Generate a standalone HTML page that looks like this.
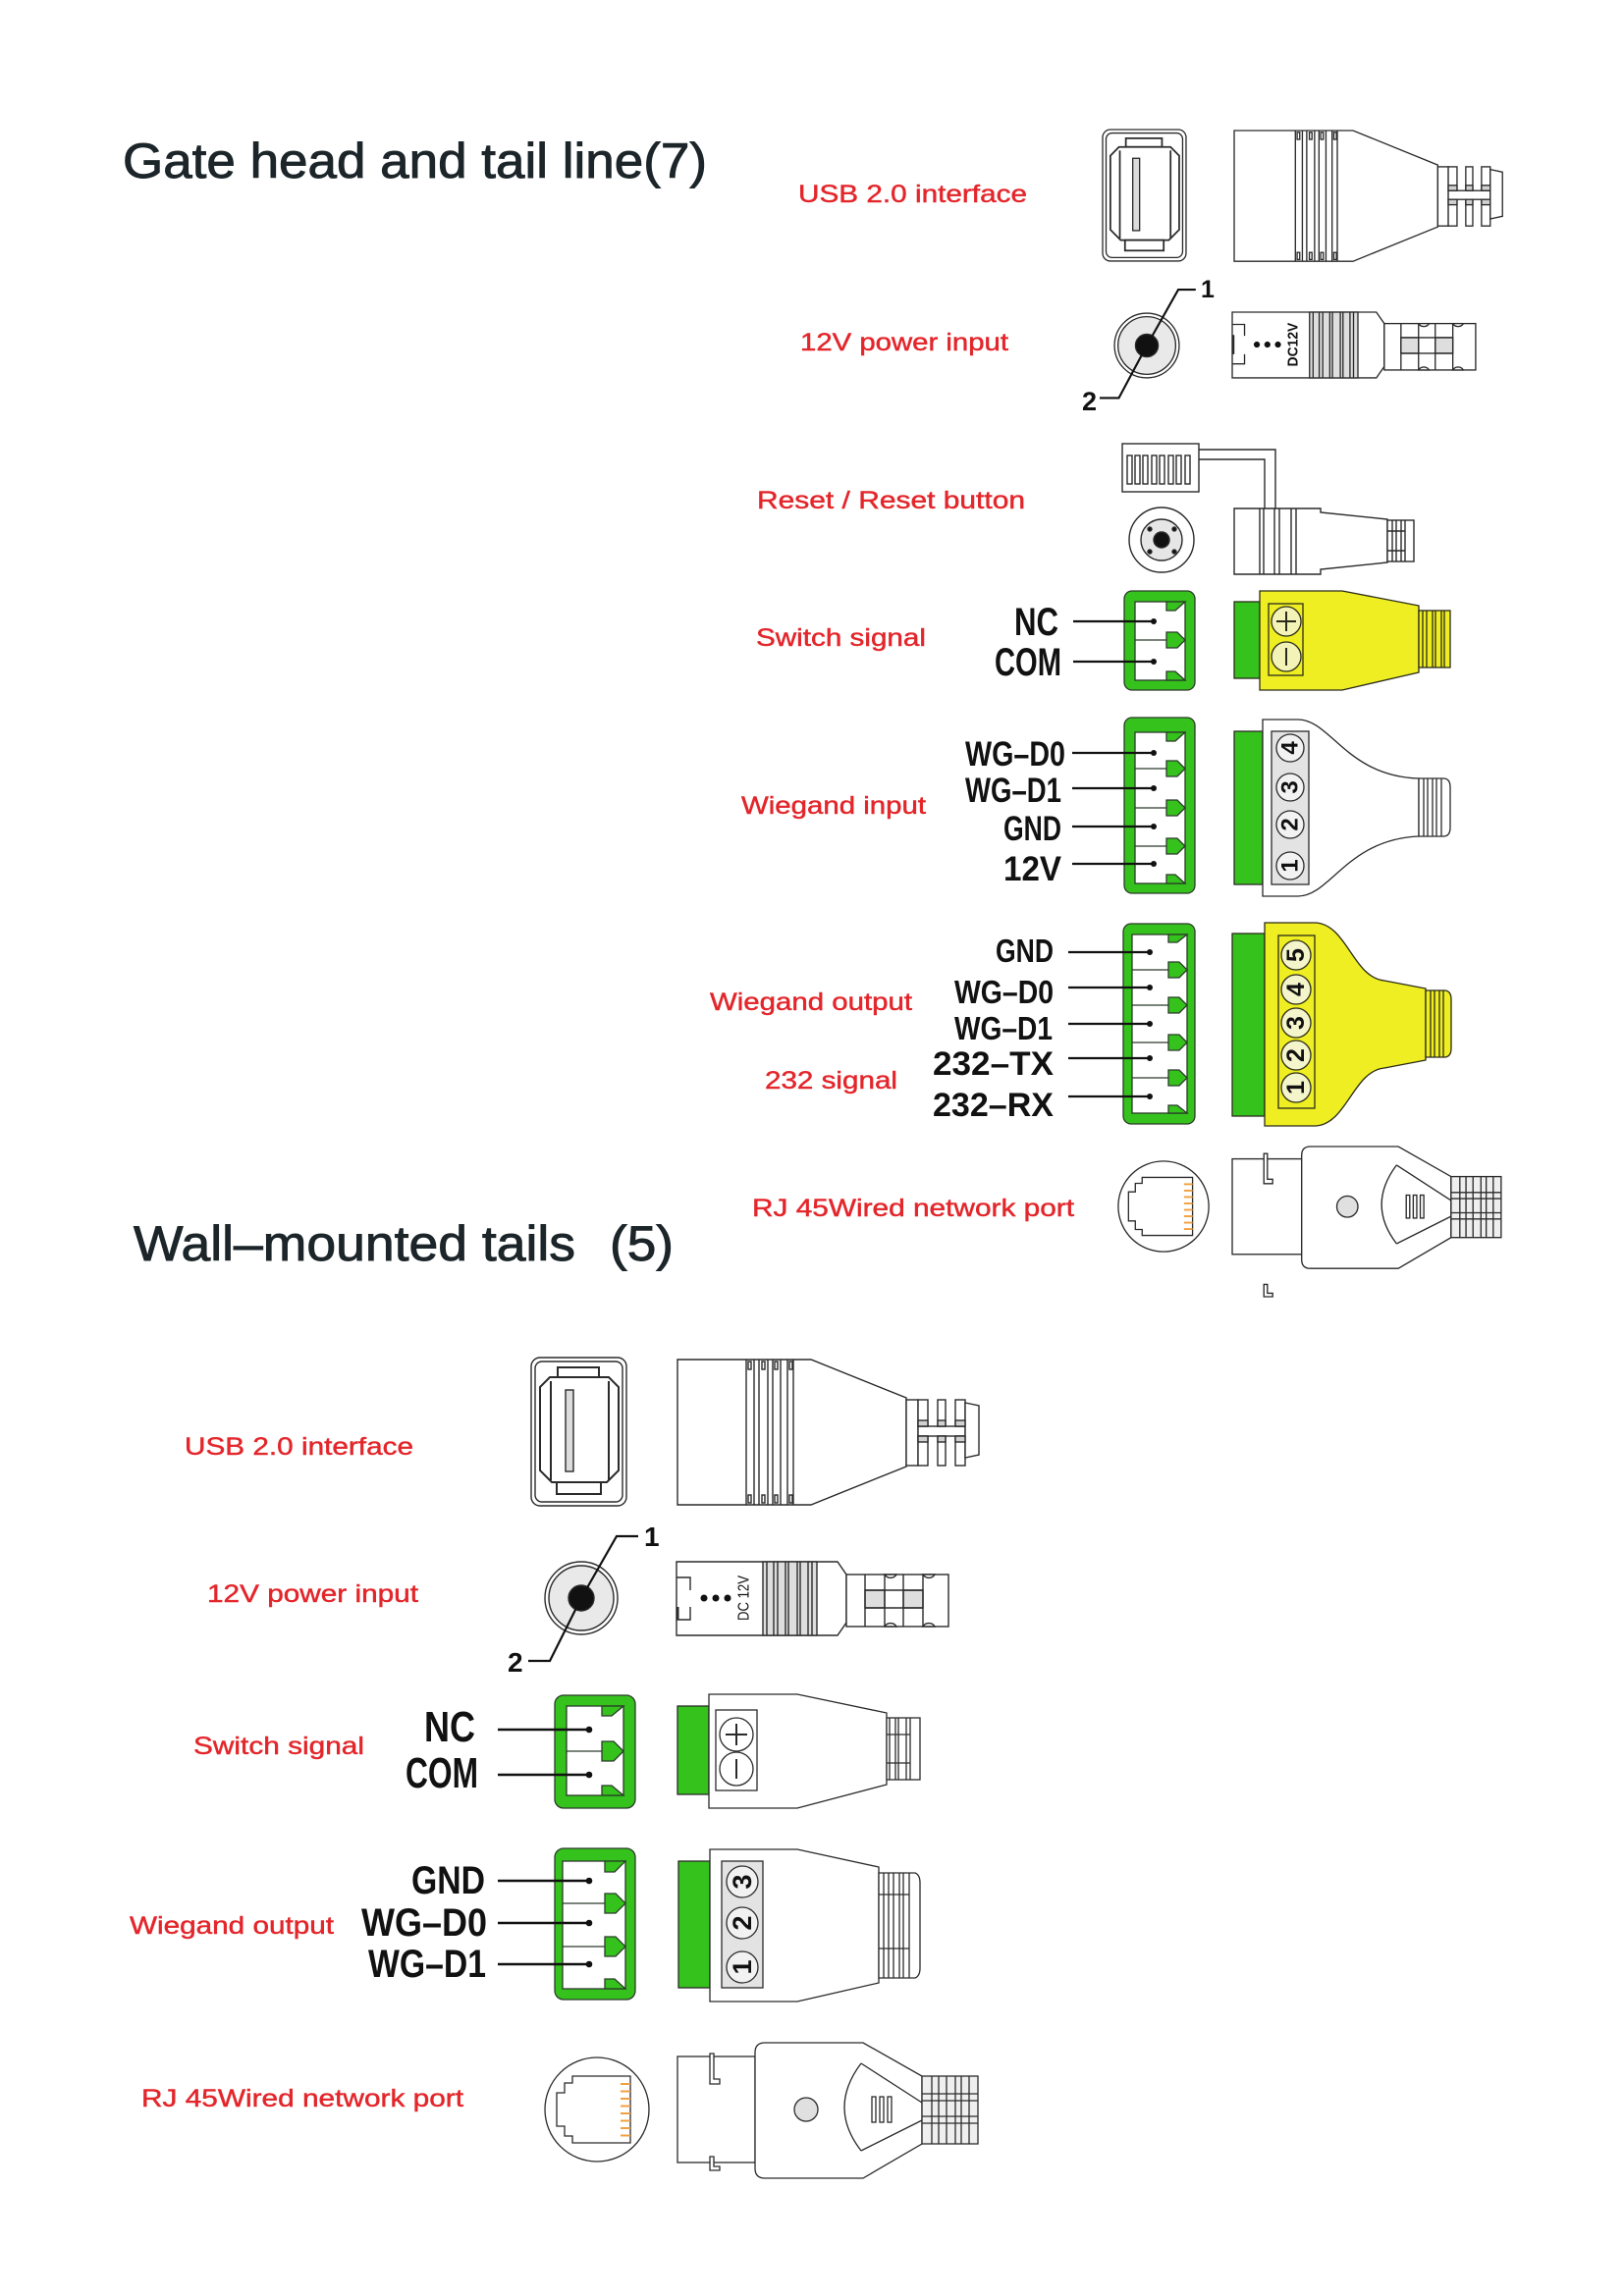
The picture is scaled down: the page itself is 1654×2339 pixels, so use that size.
<!DOCTYPE html>
<html><head><meta charset="utf-8">
<style>
html,body{margin:0;padding:0;background:#fff;}
svg{display:block;}
.r{font-family:"Liberation Sans",sans-serif;font-size:25px;fill:#e3262b;stroke:#e3262b;stroke-width:0.45px;}
.b{font-family:"Liberation Sans Narrow","Liberation Sans",sans-serif;font-weight:bold;fill:#111;}
.t{font-family:"Liberation Sans",sans-serif;font-size:50px;fill:#1c2529;stroke:#1c2529;stroke-width:0.9px;}
.n{font-family:"Liberation Sans",sans-serif;font-weight:bold;fill:#111;}
</style></head><body>
<svg width="1654" height="2339" viewBox="0 0 1654 2339" xmlns="http://www.w3.org/2000/svg">
<rect width="1654" height="2339" fill="#fff"/>

<!-- ============ TITLES ============ -->
<text class="t" x="125" y="181" textLength="595" lengthAdjust="spacingAndGlyphs">Gate head and tail line(7)</text>
<text class="t" x="136" y="1284" textLength="450" lengthAdjust="spacingAndGlyphs">Wall–mounted tails</text>
<text class="t" x="621" y="1284" textLength="65" lengthAdjust="spacingAndGlyphs">(5)</text>

<!-- ============ RED LABELS ============ -->
<text class="r" x="813" y="206" textLength="233" lengthAdjust="spacingAndGlyphs">USB 2.0 interface</text>
<text class="r" x="815" y="357" textLength="212" lengthAdjust="spacingAndGlyphs">12V power input</text>
<text class="r" x="771" y="518" textLength="273" lengthAdjust="spacingAndGlyphs">Reset / Reset button</text>
<text class="r" x="770" y="658" textLength="173" lengthAdjust="spacingAndGlyphs">Switch signal</text>
<text class="r" x="755" y="829" textLength="188" lengthAdjust="spacingAndGlyphs">Wiegand input</text>
<text class="r" x="723" y="1029" textLength="206" lengthAdjust="spacingAndGlyphs">Wiegand output</text>
<text class="r" x="779" y="1109" textLength="135" lengthAdjust="spacingAndGlyphs">232 signal</text>
<text class="r" x="766" y="1239" textLength="328" lengthAdjust="spacingAndGlyphs">RJ 45Wired network port</text>

<text class="r" x="188" y="1482" textLength="233" lengthAdjust="spacingAndGlyphs">USB 2.0 interface</text>
<text class="r" x="211" y="1632" textLength="215" lengthAdjust="spacingAndGlyphs">12V power input</text>
<text class="r" x="197" y="1787" textLength="174" lengthAdjust="spacingAndGlyphs">Switch signal</text>
<text class="r" x="132" y="1970" textLength="208" lengthAdjust="spacingAndGlyphs">Wiegand output</text>
<text class="r" x="144" y="2146" textLength="328" lengthAdjust="spacingAndGlyphs">RJ 45Wired network port</text>

<!-- ============ BLACK PIN LABELS ============ -->
<text class="b" font-size="40" x="1033" y="647" textLength="45" lengthAdjust="spacingAndGlyphs">NC</text>
<text class="b" font-size="40" x="1013" y="688" textLength="68" lengthAdjust="spacingAndGlyphs">COM</text>
<text class="b" font-size="35" x="983" y="780" textLength="102" lengthAdjust="spacingAndGlyphs">WG–D0</text>
<text class="b" font-size="35" x="983" y="817" textLength="98" lengthAdjust="spacingAndGlyphs">WG–D1</text>
<text class="b" font-size="35" x="1022" y="856" textLength="59" lengthAdjust="spacingAndGlyphs">GND</text>
<text class="b" font-size="35" x="1022" y="897" textLength="59" lengthAdjust="spacingAndGlyphs">12V</text>
<text class="b" font-size="33" x="1014" y="980" textLength="59" lengthAdjust="spacingAndGlyphs">GND</text>
<text class="b" font-size="33" x="972" y="1022" textLength="101" lengthAdjust="spacingAndGlyphs">WG–D0</text>
<text class="b" font-size="33" x="972" y="1059" textLength="100" lengthAdjust="spacingAndGlyphs">WG–D1</text>
<text class="b" font-size="34" x="950" y="1095" textLength="123" lengthAdjust="spacingAndGlyphs">232–TX</text>
<text class="b" font-size="34" x="950" y="1137" textLength="123" lengthAdjust="spacingAndGlyphs">232–RX</text>

<text class="b" font-size="44" x="432" y="1774" textLength="52" lengthAdjust="spacingAndGlyphs">NC</text>
<text class="b" font-size="44" x="413" y="1821" textLength="74" lengthAdjust="spacingAndGlyphs">COM</text>
<text class="b" font-size="40" x="419" y="1929" textLength="75" lengthAdjust="spacingAndGlyphs">GND</text>
<text class="b" font-size="40" x="368" y="1972" textLength="128" lengthAdjust="spacingAndGlyphs">WG–D0</text>
<text class="b" font-size="40" x="375" y="2014" textLength="120" lengthAdjust="spacingAndGlyphs">WG–D1</text>

<!-- pin number labels -->
<text class="n" font-size="25" x="1223" y="303">1</text>
<text class="n" font-size="27" x="1102" y="418">2</text>
<text class="n" font-size="28" x="656" y="1575">1</text>
<text class="n" font-size="28" x="517" y="1703">2</text>

<!-- ============ USB PORTS ============ -->
<g transform="translate(541,1383)" stroke="#2a2a2a" stroke-width="1.4" fill="#fff">
  <rect x="0" y="0" width="97" height="151" rx="9"/>
  <rect x="4" y="4" width="89" height="143" rx="7"/>
  <rect x="27" y="10" width="42" height="10" stroke-width="2"/>
  <polygon points="19,20 79,20 89,30 89,115 77,127 21,127 9,115 9,30" stroke-width="2"/>
  <line x1="20" y1="24" x2="20" y2="125" stroke-width="2"/>
  <line x1="79" y1="24" x2="79" y2="125" stroke-width="2"/>
  <rect x="26" y="127" width="45" height="12" stroke-width="2"/>
  <rect x="35" y="33" width="8" height="83" fill="#dcdcdc"/>
</g>
<g transform="translate(1123,132) scale(0.876,0.887)" stroke="#2a2a2a" stroke-width="1.5" fill="#fff">
  <rect x="0" y="0" width="97" height="151" rx="9"/>
  <rect x="4" y="4" width="89" height="143" rx="7"/>
  <rect x="27" y="10" width="42" height="10" stroke-width="2"/>
  <polygon points="19,20 79,20 89,30 89,115 77,127 21,127 9,115 9,30" stroke-width="2"/>
  <line x1="20" y1="24" x2="20" y2="125" stroke-width="2"/>
  <line x1="79" y1="24" x2="79" y2="125" stroke-width="2"/>
  <rect x="26" y="127" width="45" height="12" stroke-width="2"/>
  <rect x="35" y="33" width="8" height="83" fill="#dcdcdc"/>
</g>

<!-- ============ USB CONNECTORS ============ -->
<g transform="translate(690,1385)" stroke="#2a2a2a" stroke-width="1.4" fill="#fff">
  <path d="M0,0 H136 L233,39 V109 L136,148 H0 Z"/>
  <g fill="none">
    <line x1="70" y1="0" x2="70" y2="148"/><line x1="78" y1="0" x2="78" y2="148"/>
    <line x1="83" y1="0" x2="83" y2="148"/><line x1="92" y1="0" x2="92" y2="148"/>
    <line x1="97" y1="0" x2="97" y2="148"/><line x1="105" y1="0" x2="105" y2="148"/>
    <line x1="112" y1="0" x2="112" y2="148"/><line x1="118" y1="0" x2="118" y2="148"/>
  </g>
  <rect x="72" y="2" width="3" height="8"/><rect x="86" y="2" width="3" height="8"/><rect x="99" y="2" width="3" height="8"/><rect x="114" y="2" width="3" height="8"/>
  <rect x="72" y="138" width="3" height="8"/><rect x="86" y="138" width="3" height="8"/><rect x="99" y="138" width="3" height="8"/><rect x="114" y="138" width="3" height="8"/>
  <rect x="233" y="41" width="12" height="67"/>
  <rect x="245" y="68" width="48" height="10"/>
  <rect x="245" y="41" width="10" height="27"/><rect x="265" y="41" width="8" height="27"/><rect x="283" y="41" width="10" height="27"/>
  <rect x="245" y="78" width="10" height="30"/><rect x="265" y="78" width="8" height="30"/><rect x="283" y="78" width="10" height="30"/>
  <polygon points="293,44 307,47 307,97 293,100"/>
  <rect x="245" y="62" width="10" height="6" fill="#d0d0d0"/><rect x="265" y="62" width="8" height="6" fill="#d0d0d0"/><rect x="283" y="62" width="10" height="6" fill="#d0d0d0"/>
  <rect x="245" y="78" width="10" height="6" fill="#d0d0d0"/><rect x="265" y="78" width="8" height="6" fill="#d0d0d0"/><rect x="283" y="78" width="10" height="6" fill="#d0d0d0"/>
</g>
<g transform="translate(1257,133) scale(0.89,0.9)" stroke="#2a2a2a" stroke-width="1.5" fill="#fff">
  <path d="M0,0 H136 L233,39 V109 L136,148 H0 Z"/>
  <g fill="none">
    <line x1="70" y1="0" x2="70" y2="148"/><line x1="78" y1="0" x2="78" y2="148"/>
    <line x1="83" y1="0" x2="83" y2="148"/><line x1="92" y1="0" x2="92" y2="148"/>
    <line x1="97" y1="0" x2="97" y2="148"/><line x1="105" y1="0" x2="105" y2="148"/>
    <line x1="112" y1="0" x2="112" y2="148"/><line x1="118" y1="0" x2="118" y2="148"/>
  </g>
  <rect x="72" y="2" width="3" height="8"/><rect x="86" y="2" width="3" height="8"/><rect x="99" y="2" width="3" height="8"/><rect x="114" y="2" width="3" height="8"/>
  <rect x="72" y="138" width="3" height="8"/><rect x="86" y="138" width="3" height="8"/><rect x="99" y="138" width="3" height="8"/><rect x="114" y="138" width="3" height="8"/>
  <rect x="233" y="41" width="12" height="67"/>
  <rect x="245" y="68" width="48" height="10"/>
  <rect x="245" y="41" width="10" height="27"/><rect x="265" y="41" width="8" height="27"/><rect x="283" y="41" width="10" height="27"/>
  <rect x="245" y="78" width="10" height="30"/><rect x="265" y="78" width="8" height="30"/><rect x="283" y="78" width="10" height="30"/>
  <polygon points="293,44 307,47 307,97 293,100"/>
  <rect x="245" y="62" width="10" height="6" fill="#d0d0d0"/><rect x="265" y="62" width="8" height="6" fill="#d0d0d0"/><rect x="283" y="62" width="10" height="6" fill="#d0d0d0"/>
  <rect x="245" y="78" width="10" height="6" fill="#d0d0d0"/><rect x="265" y="78" width="8" height="6" fill="#d0d0d0"/><rect x="283" y="78" width="10" height="6" fill="#d0d0d0"/>
</g>

<!-- ============ POWER JACKS ============ -->
<g transform="translate(592,1628)" stroke="#2a2a2a" stroke-width="1.4">
  <circle r="37" fill="#fff"/>
  <circle r="33" fill="#e9e9e9"/>
  <circle r="13" fill="#111"/>
  <polyline points="0,0 36,-63 58,-63" fill="none" stroke="#111" stroke-width="2.2"/>
  <polyline points="0,0 -32,64 -54,64" fill="none" stroke="#111" stroke-width="2.2"/>
</g>
<g transform="translate(1168,352) scale(0.89)" stroke="#2a2a2a" stroke-width="1.5">
  <circle r="37" fill="#fff"/>
  <circle r="33" fill="#e9e9e9"/>
  <circle r="13" fill="#111"/>
  <polyline points="0,0 36,-64 56,-64" fill="none" stroke="#111" stroke-width="2.4"/>
  <polyline points="0,0 -32,60 -54,60" fill="none" stroke="#111" stroke-width="2.4"/>
</g>

<!-- ============ DC PLUGS ============ -->
<g transform="translate(689,1591)" stroke="#2a2a2a" stroke-width="1.4" fill="#fff">
  <path d="M0,0 H164 L173,13 V62 L164,75 H0 Z"/>
  <rect x="88" y="0" width="55" height="75" fill="#dedede"/>
  <g fill="none">
    <line x1="92" y1="0" x2="92" y2="75"/><line x1="99" y1="0" x2="99" y2="75"/>
    <line x1="103" y1="0" x2="103" y2="75"/><line x1="111" y1="0" x2="111" y2="75"/>
    <line x1="114" y1="0" x2="114" y2="75"/><line x1="123" y1="0" x2="123" y2="75"/>
    <line x1="126" y1="0" x2="126" y2="75"/><line x1="134" y1="0" x2="134" y2="75"/>
    <line x1="138" y1="0" x2="138" y2="75"/>
  </g>
  <rect x="173" y="13" width="104" height="53"/>
  <rect x="192" y="29" width="20" height="18" fill="#dedede"/>
  <rect x="231" y="29" width="20" height="18" fill="#dedede"/>
  <g fill="none">
    <line x1="192" y1="13" x2="192" y2="66"/><line x1="212" y1="13" x2="212" y2="66"/>
    <line x1="231" y1="13" x2="231" y2="66"/><line x1="251" y1="13" x2="251" y2="66"/>
    <line x1="192" y1="29" x2="251" y2="29"/><line x1="192" y1="47" x2="251" y2="47"/>
    <polyline points="0,16 14,16 14,29"/><polyline points="14,46 14,59 0,59"/>
  </g>
  <path d="M212,13 A7,7 0 0 0 224,13 Z"/><path d="M251,13 A7,7 0 0 0 263,13 Z"/>
  <path d="M212,66 A7,7 0 0 1 224,66 Z"/><path d="M251,66 A7,7 0 0 1 263,66 Z"/>
  <line x1="1" y1="46" x2="1" y2="59" stroke-width="3"/>
  <circle cx="28" cy="37" r="3.5" fill="#111" stroke="none"/>
  <circle cx="40" cy="37" r="3.5" fill="#111" stroke="none"/>
  <circle cx="52" cy="37" r="3.5" fill="#111" stroke="none"/>
  <text transform="translate(69,37) rotate(-90)" text-anchor="middle" dominant-baseline="central" font-family="Liberation Sans Narrow, Liberation Sans, sans-serif" font-size="16" fill="#111" stroke="none" textLength="46" lengthAdjust="spacingAndGlyphs">DC 12V</text>
</g>
<g transform="translate(1255,318) scale(0.895,0.893)" stroke="#2a2a2a" stroke-width="1.5" fill="#fff">
  <path d="M0,0 H164 L173,13 V62 L164,75 H0 Z"/>
  <rect x="88" y="0" width="55" height="75" fill="#dedede"/>
  <g fill="none">
    <line x1="92" y1="0" x2="92" y2="75"/><line x1="99" y1="0" x2="99" y2="75"/>
    <line x1="103" y1="0" x2="103" y2="75"/><line x1="111" y1="0" x2="111" y2="75"/>
    <line x1="114" y1="0" x2="114" y2="75"/><line x1="123" y1="0" x2="123" y2="75"/>
    <line x1="126" y1="0" x2="126" y2="75"/><line x1="134" y1="0" x2="134" y2="75"/>
    <line x1="138" y1="0" x2="138" y2="75"/>
  </g>
  <rect x="173" y="13" width="104" height="53"/>
  <rect x="192" y="29" width="20" height="18" fill="#dedede"/>
  <rect x="231" y="29" width="20" height="18" fill="#dedede"/>
  <g fill="none">
    <line x1="192" y1="13" x2="192" y2="66"/><line x1="212" y1="13" x2="212" y2="66"/>
    <line x1="231" y1="13" x2="231" y2="66"/><line x1="251" y1="13" x2="251" y2="66"/>
    <line x1="192" y1="29" x2="251" y2="29"/><line x1="192" y1="47" x2="251" y2="47"/>
    <polyline points="0,14 14,14 14,27"/><polyline points="14,48 14,59 0,59"/>
  </g>
  <path d="M212,13 A7,7 0 0 0 224,13 Z"/><path d="M251,13 A7,7 0 0 0 263,13 Z"/>
  <path d="M212,66 A7,7 0 0 1 224,66 Z"/><path d="M251,66 A7,7 0 0 1 263,66 Z"/>
  <line x1="1" y1="26" x2="1" y2="48" stroke-width="3"/>
  <circle cx="28" cy="37" r="3.5" fill="#111" stroke="none"/>
  <circle cx="40" cy="37" r="3.5" fill="#111" stroke="none"/>
  <circle cx="52" cy="37" r="3.5" fill="#111" stroke="none"/>
  <text transform="translate(70,37) rotate(-90)" text-anchor="middle" dominant-baseline="central" font-family="Liberation Sans, sans-serif" font-weight="bold" font-size="16" fill="#111" stroke="none" textLength="50" lengthAdjust="spacingAndGlyphs">DC12V</text>
</g>

<!-- ============ RESET (top) ============ -->
<g stroke="#2a2a2a" stroke-width="1.4" fill="#fff">
  <rect x="1143" y="452" width="78" height="49"/>
  <rect x="1148" y="464" width="5" height="29"/><rect x="1156" y="464" width="5" height="29"/>
  <rect x="1164" y="464" width="5" height="29"/><rect x="1173" y="464" width="5" height="29"/>
  <rect x="1181" y="464" width="5" height="29"/><rect x="1190" y="464" width="5" height="29"/>
  <rect x="1198" y="464" width="5" height="29"/><rect x="1207" y="464" width="5" height="29"/>
  <polyline points="1221,458 1299,458 1299,518" fill="none"/>
  <polyline points="1221,468 1288,468 1288,518" fill="none"/>
  <circle cx="1183" cy="550" r="33"/>
  <circle cx="1183" cy="550" r="21" fill="#e6e6e6"/>
  <circle cx="1183" cy="550" r="8" fill="#111"/>
  <circle cx="1171" cy="539" r="2" fill="#111"/><circle cx="1196" cy="539" r="2" fill="#111"/>
  <circle cx="1171" cy="562" r="2" fill="#111"/><circle cx="1196" cy="562" r="2" fill="#111"/>
  <path d="M1257,518 H1345 V522 L1413,529 V573 L1345,580 V585 H1257 Z"/>
  <g fill="none">
    <line x1="1283" y1="518" x2="1283" y2="585"/><line x1="1287" y1="518" x2="1287" y2="585"/>
    <line x1="1298" y1="518" x2="1298" y2="585"/><line x1="1303" y1="518" x2="1303" y2="585"/>
    <line x1="1315" y1="518" x2="1315" y2="585"/><line x1="1320" y1="518" x2="1320" y2="585"/>
  </g>
  <rect x="1413" y="530" width="27" height="42"/>
  <g fill="none">
    <line x1="1418" y1="530" x2="1418" y2="572"/><line x1="1422" y1="530" x2="1422" y2="572"/>
    <line x1="1427" y1="530" x2="1427" y2="572"/><line x1="1431" y1="530" x2="1431" y2="572"/>
    <line x1="1413" y1="541" x2="1431" y2="541"/><line x1="1413" y1="561" x2="1431" y2="561"/>
  </g>
</g>

<!-- ============ GREEN TERMINAL BLOCKS (top) ============ -->
<g stroke="#2b3a2b" stroke-width="1.3">
  <rect x="1145" y="602" width="72" height="101" rx="8" fill="#36c21c"/>
  <rect x="1156" y="613" width="51" height="80" fill="#fff"/>
  <polygon points="1188,613 1207,613 1197,622 1188,622" fill="#36c21c"/>
  <polygon points="1188,684 1197,684 1207,693 1188,693" fill="#36c21c"/>
  <line x1="1156" y1="652" x2="1207" y2="652"/>
  <polygon points="1188,644 1199,644 1207,652 1199,660 1188,660" fill="#36c21c"/>
</g>
<g stroke="#111" stroke-width="2.2">
  <line x1="1093" y1="633" x2="1175" y2="633"/><line x1="1093" y1="674" x2="1175" y2="674"/>
</g>
<circle cx="1175" cy="633" r="3" fill="#111"/><circle cx="1175" cy="674" r="3" fill="#111"/>

<g stroke="#2b3a2b" stroke-width="1.3">
  <rect x="1145" y="731" width="72" height="179" rx="8" fill="#36c21c"/>
  <rect x="1156" y="746" width="51" height="154" fill="#fff"/>
  <polygon points="1188,746 1207,746 1197,755 1188,755" fill="#36c21c"/>
  <polygon points="1188,891 1197,891 1207,900 1188,900" fill="#36c21c"/>
  <line x1="1156" y1="783" x2="1207" y2="783"/>
  <line x1="1156" y1="823" x2="1207" y2="823"/>
  <line x1="1156" y1="862" x2="1207" y2="862"/>
  <polygon points="1188,775 1199,775 1207,783 1199,791 1188,791" fill="#36c21c"/>
  <polygon points="1188,815 1199,815 1207,823 1199,831 1188,831" fill="#36c21c"/>
  <polygon points="1188,854 1199,854 1207,862 1199,870 1188,870" fill="#36c21c"/>
</g>
<g stroke="#111" stroke-width="2.2">
  <line x1="1092" y1="767" x2="1175" y2="767"/><line x1="1092" y1="803" x2="1175" y2="803"/>
  <line x1="1092" y1="842" x2="1175" y2="842"/><line x1="1092" y1="880" x2="1175" y2="880"/>
</g>
<g fill="#111"><circle cx="1175" cy="767" r="3"/><circle cx="1175" cy="803" r="3"/><circle cx="1175" cy="842" r="3"/><circle cx="1175" cy="880" r="3"/></g>

<g stroke="#2b3a2b" stroke-width="1.3">
  <rect x="1144" y="941" width="73" height="204" rx="8" fill="#36c21c"/>
  <rect x="1153" y="952" width="56" height="182" fill="#fff"/>
  <polygon points="1190,952 1209,952 1199,960 1190,960" fill="#36c21c"/>
  <polygon points="1190,1126 1199,1126 1209,1134 1190,1134" fill="#36c21c"/>
  <line x1="1153" y1="988" x2="1209" y2="988"/>
  <line x1="1153" y1="1024" x2="1209" y2="1024"/>
  <line x1="1153" y1="1062" x2="1209" y2="1062"/>
  <line x1="1153" y1="1098" x2="1209" y2="1098"/>
  <polygon points="1190,980 1201,980 1209,988 1201,996 1190,996" fill="#36c21c"/>
  <polygon points="1190,1016 1201,1016 1209,1024 1201,1032 1190,1032" fill="#36c21c"/>
  <polygon points="1190,1054 1201,1054 1209,1062 1201,1070 1190,1070" fill="#36c21c"/>
  <polygon points="1190,1090 1201,1090 1209,1098 1201,1106 1190,1106" fill="#36c21c"/>
</g>
<g stroke="#111" stroke-width="2.2">
  <line x1="1088" y1="970" x2="1171" y2="970"/><line x1="1088" y1="1006" x2="1171" y2="1006"/>
  <line x1="1088" y1="1043" x2="1171" y2="1043"/><line x1="1088" y1="1078" x2="1171" y2="1078"/>
  <line x1="1088" y1="1117" x2="1171" y2="1117"/>
</g>
<g fill="#111"><circle cx="1171" cy="970" r="3"/><circle cx="1171" cy="1006" r="3"/><circle cx="1171" cy="1043" r="3"/><circle cx="1171" cy="1078" r="3"/><circle cx="1171" cy="1117" r="3"/></g>

<!-- ============ TOP CONNECTORS ============ -->
<g stroke="#2b2b1b" stroke-width="1.3">
  <rect x="1257" y="613" width="26" height="78" fill="#36c21c"/>
  <path d="M1283,602 H1367 L1445,617 V685 L1367,703 H1283 Z" fill="#eeee22"/>
  <rect x="1445" y="622" width="32" height="58" fill="#eeee22"/>
  <g fill="none">
    <line x1="1449" y1="622" x2="1449" y2="680"/><line x1="1453" y1="622" x2="1453" y2="680"/>
    <line x1="1459" y1="622" x2="1459" y2="680"/><line x1="1462" y1="622" x2="1462" y2="680"/>
    <line x1="1468" y1="622" x2="1468" y2="680"/><line x1="1471" y1="622" x2="1471" y2="680"/>
  </g>
  <rect x="1292" y="615" width="35" height="73" fill="#eeee22"/>
  <circle cx="1310" cy="633" r="15" fill="#f3f3b8"/>
  <circle cx="1310" cy="669" r="15" fill="#f3f3b8"/>
  <line x1="1300" y1="633" x2="1320" y2="633" stroke-width="2"/>
  <line x1="1310" y1="623" x2="1310" y2="643" stroke-width="2"/>
  <line x1="1310" y1="660" x2="1310" y2="678" stroke-width="2"/>
</g>

<g stroke="#2a2a2a" stroke-width="1.3">
  <rect x="1257" y="745" width="29" height="156" fill="#36c21c"/>
  <path d="M1286,733 H1322 C1355,733 1372,791 1445,793 L1445,852 C1372,855 1355,913 1322,913 H1286 Z" fill="#fff"/>
  <path d="M1445,793 H1470 Q1477,793 1477,802 V843 Q1477,852 1470,852 H1445 Z" fill="#fff"/>
  <g fill="none">
    <line x1="1450" y1="793" x2="1450" y2="852"/><line x1="1454" y1="793" x2="1454" y2="852"/>
    <line x1="1459" y1="793" x2="1459" y2="852"/><line x1="1463" y1="793" x2="1463" y2="852"/>
    <line x1="1468" y1="793" x2="1468" y2="852"/>
  </g>
  <rect x="1295" y="745" width="38" height="156" fill="#e3e3e3"/>
  <circle cx="1314" cy="762" r="14" fill="#f2f2f2"/>
  <circle cx="1314" cy="802" r="14" fill="#f2f2f2"/>
  <circle cx="1314" cy="840" r="14" fill="#f2f2f2"/>
  <circle cx="1314" cy="882" r="14" fill="#f2f2f2"/>
</g>
<g class="n" font-size="24" text-anchor="middle" dominant-baseline="central">
  <text transform="translate(1314,762) rotate(-90)">4</text>
  <text transform="translate(1314,802) rotate(-90)">3</text>
  <text transform="translate(1314,840) rotate(-90)">2</text>
  <text transform="translate(1314,882) rotate(-90)">1</text>
</g>

<g stroke="#2b2b1b" stroke-width="1.3">
  <rect x="1255" y="951" width="33" height="186" fill="#36c21c"/>
  <path d="M1288,940 H1340 C1372,942 1378,996 1410,999 L1452,1007 V1080 L1410,1088 C1378,1091 1372,1145 1340,1147 H1288 Z" fill="#eeee22"/>
  <path d="M1452,1009 H1472 Q1478,1010 1478,1018 V1068 Q1478,1076 1472,1077 H1452 Z" fill="#eeee22"/>
  <g fill="none">
    <line x1="1457" y1="1009" x2="1457" y2="1077"/><line x1="1461" y1="1009" x2="1461" y2="1077"/>
    <line x1="1466" y1="1009" x2="1466" y2="1077"/><line x1="1470" y1="1009" x2="1470" y2="1077"/>
  </g>
  <rect x="1302" y="953" width="37" height="176" fill="#eeee22"/>
  <circle cx="1320" cy="973" r="15" fill="#f5f5cc"/>
  <circle cx="1320" cy="1008" r="15" fill="#f5f5cc"/>
  <circle cx="1320" cy="1042" r="15" fill="#f5f5cc"/>
  <circle cx="1320" cy="1075" r="15" fill="#f5f5cc"/>
  <circle cx="1320" cy="1108" r="15" fill="#f5f5cc"/>
</g>
<g class="n" font-size="25" text-anchor="middle" dominant-baseline="central">
  <text transform="translate(1320,973) rotate(-90)">5</text>
  <text transform="translate(1320,1008) rotate(-90)">4</text>
  <text transform="translate(1320,1042) rotate(-90)">3</text>
  <text transform="translate(1320,1075) rotate(-90)">2</text>
  <text transform="translate(1320,1108) rotate(-90)">1</text>
</g>

<!-- ============ RJ45 JACKS ============ -->
<g transform="translate(608,2149)" stroke="#2a2a2a" stroke-width="1.3" fill="#fff">
  <circle r="53"/>
  <path d="M-25,-34 H34 V34 H-25 V27 H-33 V17 H-41 V-17 H-33 V-27 H-25 Z"/>
  <g stroke="#f0a040" stroke-width="2">
    <line x1="24" y1="-26" x2="34" y2="-26"/><line x1="24" y1="-18.5" x2="34" y2="-18.5"/>
    <line x1="24" y1="-11" x2="34" y2="-11"/><line x1="24" y1="-3.5" x2="34" y2="-3.5"/>
    <line x1="24" y1="4" x2="34" y2="4"/><line x1="24" y1="11.5" x2="34" y2="11.5"/>
    <line x1="24" y1="19" x2="34" y2="19"/><line x1="24" y1="26.5" x2="34" y2="26.5"/>
  </g>
</g>
<g transform="translate(1185,1229) scale(0.87)" stroke="#2a2a2a" stroke-width="1.5" fill="#fff">
  <circle r="53"/>
  <path d="M-25,-34 H34 V34 H-25 V27 H-33 V17 H-41 V-17 H-33 V-27 H-25 Z"/>
  <g stroke="#f0a040" stroke-width="2.2">
    <line x1="24" y1="-26" x2="34" y2="-26"/><line x1="24" y1="-18.5" x2="34" y2="-18.5"/>
    <line x1="24" y1="-11" x2="34" y2="-11"/><line x1="24" y1="-3.5" x2="34" y2="-3.5"/>
    <line x1="24" y1="4" x2="34" y2="4"/><line x1="24" y1="11.5" x2="34" y2="11.5"/>
    <line x1="24" y1="19" x2="34" y2="19"/><line x1="24" y1="26.5" x2="34" y2="26.5"/>
  </g>
</g>

<!-- ============ RJ45 PLUGS ============ -->
<g transform="translate(690,2081)" stroke="#2a2a2a" stroke-width="1.3" fill="#fff">
  <rect x="0" y="14" width="79" height="108"/>
  <path d="M89,0 H189 L249,34 V103 L189,138 H89 Q79,138 79,128 V10 Q79,0 89,0 Z"/>
  <rect x="249" y="34" width="57" height="69" fill="#efefef"/>
  <g fill="none">
    <line x1="259" y1="34" x2="259" y2="103"/><line x1="266" y1="34" x2="266" y2="103"/>
    <line x1="274" y1="34" x2="274" y2="103"/><line x1="283" y1="34" x2="283" y2="103"/>
    <line x1="289" y1="34" x2="289" y2="103"/><line x1="297" y1="34" x2="297" y2="103"/>
    <line x1="249" y1="52" x2="306" y2="52"/><line x1="249" y1="59" x2="306" y2="59"/>
    <line x1="249" y1="75" x2="306" y2="75"/><line x1="249" y1="82" x2="306" y2="82"/>
    <path d="M187,21 L249,61 M187,110 L249,79 M187,21 Q153,66 187,110"/>
  </g>
  <circle cx="131" cy="68" r="12" fill="#e0e0e0"/>
  <rect x="198" y="55" width="4" height="26"/><rect x="206" y="55" width="4" height="26"/><rect x="214" y="55" width="4" height="26"/>
  <path d="M33,11 V42 H43 V37 H37 V11 Z"/>
  <path d="M33,116 V130 H43 V126 H37 V116 Z"/>
</g>
<g transform="translate(1255,1168) scale(0.895,0.9)" stroke="#2a2a2a" stroke-width="1.5" fill="#fff">
  <rect x="0" y="14" width="79" height="108"/>
  <path d="M89,0 H189 L249,34 V103 L189,138 H89 Q79,138 79,128 V10 Q79,0 89,0 Z"/>
  <rect x="249" y="34" width="57" height="69" fill="#efefef"/>
  <g fill="none">
    <line x1="259" y1="34" x2="259" y2="103"/><line x1="266" y1="34" x2="266" y2="103"/>
    <line x1="274" y1="34" x2="274" y2="103"/><line x1="283" y1="34" x2="283" y2="103"/>
    <line x1="289" y1="34" x2="289" y2="103"/><line x1="297" y1="34" x2="297" y2="103"/>
    <line x1="249" y1="52" x2="306" y2="52"/><line x1="249" y1="59" x2="306" y2="59"/>
    <line x1="249" y1="75" x2="306" y2="75"/><line x1="249" y1="82" x2="306" y2="82"/>
    <path d="M187,21 L249,61 M187,110 L249,79 M187,21 Q153,66 187,110"/>
  </g>
  <circle cx="131" cy="68" r="12" fill="#e0e0e0"/>
  <rect x="198" y="55" width="4" height="26"/><rect x="206" y="55" width="4" height="26"/><rect x="214" y="55" width="4" height="26"/>
  <path d="M36,8 V42 H46 V37 H40 V8 Z"/>
  <path d="M36,156 V170 H46 V166 H40 V156 Z"/>
</g>

<!-- ============ BOTTOM GREEN BLOCKS ============ -->
<g stroke="#2b3a2b" stroke-width="1.3">
  <rect x="565" y="1727" width="82" height="115" rx="9" fill="#36c21c"/>
  <rect x="577" y="1738" width="58" height="91" fill="#fff"/>
  <polygon points="613,1738 635,1738 623,1748 613,1748" fill="#36c21c"/>
  <polygon points="613,1819 623,1819 635,1829 613,1829" fill="#36c21c"/>
  <line x1="577" y1="1784" x2="635" y2="1784"/>
  <polygon points="613,1774 625,1774 635,1784 625,1794 613,1794" fill="#36c21c"/>
</g>
<g stroke="#111" stroke-width="2.4">
  <line x1="507" y1="1762" x2="600" y2="1762"/><line x1="507" y1="1808" x2="600" y2="1808"/>
</g>
<circle cx="600" cy="1762" r="3.3" fill="#111"/><circle cx="600" cy="1808" r="3.3" fill="#111"/>

<g stroke="#2b3a2b" stroke-width="1.3">
  <rect x="565" y="1883" width="82" height="154" rx="9" fill="#36c21c"/>
  <rect x="573" y="1896" width="64" height="130" fill="#fff"/>
  <polygon points="616,1896 637,1896 626,1907 616,1907" fill="#36c21c"/>
  <polygon points="616,2016 626,2016 637,2026 616,2026" fill="#36c21c"/>
  <line x1="573" y1="1939" x2="637" y2="1939"/>
  <line x1="573" y1="1983" x2="637" y2="1983"/>
  <polygon points="616,1929 627,1929 637,1939 627,1949 616,1949" fill="#36c21c"/>
  <polygon points="616,1973 627,1973 637,1983 627,1993 616,1993" fill="#36c21c"/>
</g>
<g stroke="#111" stroke-width="2.4">
  <line x1="507" y1="1916" x2="600" y2="1916"/><line x1="507" y1="1959" x2="600" y2="1959"/>
  <line x1="507" y1="2001" x2="600" y2="2001"/>
</g>
<g fill="#111"><circle cx="600" cy="1916" r="3.3"/><circle cx="600" cy="1959" r="3.3"/><circle cx="600" cy="2001" r="3.3"/></g>

<!-- ============ BOTTOM CONNECTORS ============ -->
<g stroke="#2a2a2a" stroke-width="1.3">
  <rect x="690" y="1738" width="32" height="90" fill="#36c21c"/>
  <path d="M722,1726 H812 L903,1745 V1818 L812,1842 H722 Z" fill="#fff"/>
  <rect x="903" y="1750" width="34" height="63" fill="#fff"/>
  <g fill="none">
    <line x1="906" y1="1750" x2="906" y2="1813"/><line x1="912" y1="1750" x2="912" y2="1813"/>
    <line x1="915" y1="1750" x2="915" y2="1813"/><line x1="923" y1="1750" x2="923" y2="1813"/>
    <line x1="927" y1="1750" x2="927" y2="1813"/>
    <line x1="903" y1="1767" x2="927" y2="1767"/><line x1="903" y1="1796" x2="927" y2="1796"/>
  </g>
  <rect x="729" y="1742" width="42" height="82" fill="#fff"/>
  <circle cx="750" cy="1767" r="17" fill="#fff"/>
  <circle cx="750" cy="1802" r="17" fill="#fff"/>
  <line x1="739" y1="1767" x2="761" y2="1767" stroke-width="2"/>
  <line x1="750" y1="1756" x2="750" y2="1778" stroke-width="2"/>
  <line x1="750" y1="1792" x2="750" y2="1812" stroke-width="2"/>
</g>

<g stroke="#2a2a2a" stroke-width="1.3">
  <rect x="691" y="1896" width="32" height="129" fill="#36c21c"/>
  <path d="M723,1884 H812 L895,1902 V2020 L812,2039 H723 Z" fill="#fff"/>
  <path d="M895,1908 H932 Q937,1910 937,1918 V2005 Q937,2013 932,2015 H895 Z" fill="#fff"/>
  <g fill="none">
    <line x1="900" y1="1908" x2="900" y2="2015"/><line x1="905" y1="1908" x2="905" y2="2015"/>
    <line x1="910" y1="1908" x2="910" y2="2015"/><line x1="916" y1="1908" x2="916" y2="2015"/>
    <line x1="920" y1="1908" x2="920" y2="2015"/><line x1="926" y1="1908" x2="926" y2="2015"/>
    <line x1="895" y1="1930" x2="926" y2="1930"/><line x1="895" y1="1985" x2="926" y2="1985"/>
  </g>
  <rect x="735" y="1896" width="42" height="129" fill="#e3e3e3"/>
  <circle cx="756" cy="1917" r="16" fill="#f2f2f2"/>
  <circle cx="756" cy="1959" r="16" fill="#f2f2f2"/>
  <circle cx="756" cy="2004" r="16" fill="#f2f2f2"/>
</g>
<g class="n" font-size="27" text-anchor="middle" dominant-baseline="central">
  <text transform="translate(756,1917) rotate(-90)">3</text>
  <text transform="translate(756,1959) rotate(-90)">2</text>
  <text transform="translate(756,2004) rotate(-90)">1</text>
</g>

</svg>
</body></html>
